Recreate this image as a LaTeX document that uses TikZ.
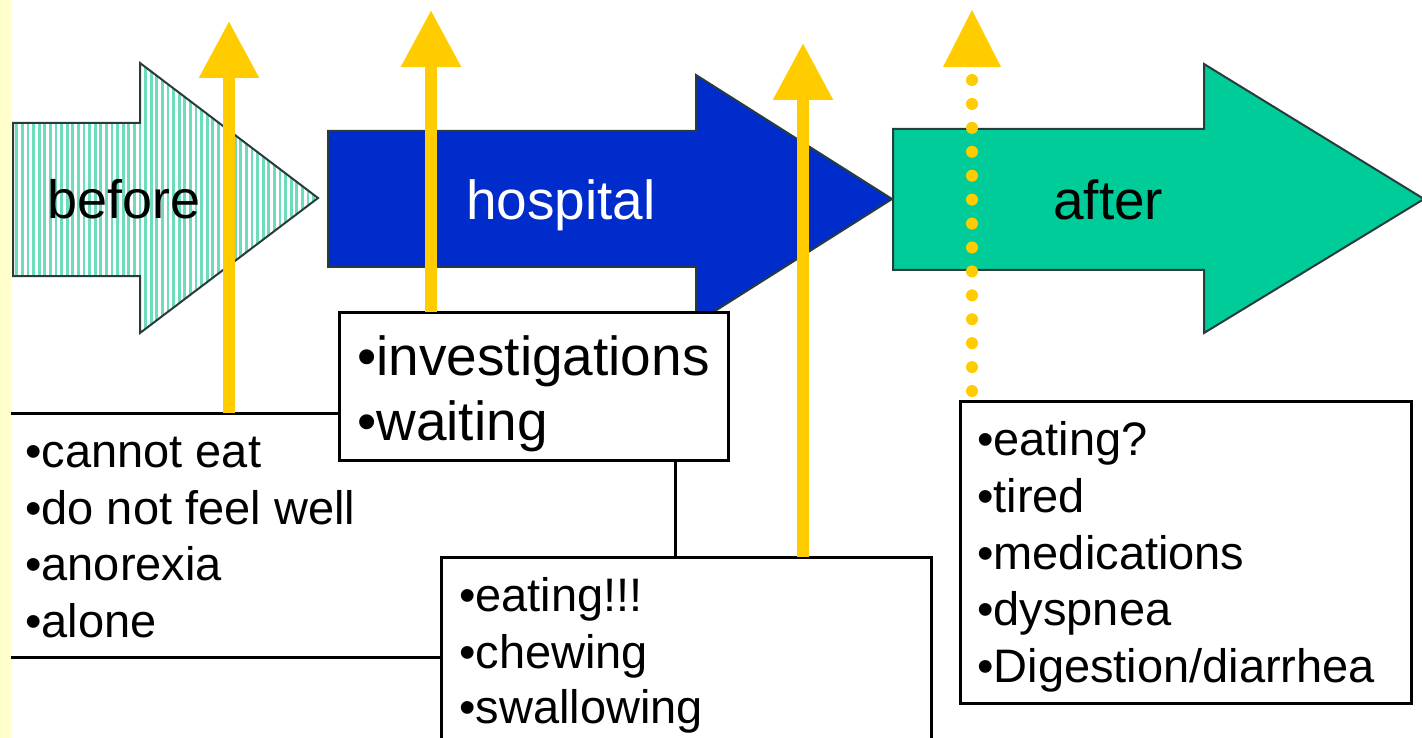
\documentclass[tikz,border=0pt]{standalone}
\usepackage{fontspec}
\setmainfont{Liberation Sans}
\usetikzlibrary{arrows.meta,patterns.meta}
\definecolor{yel}{HTML}{FFCC00}
\definecolor{hblue}{RGB}{0,44,204}
\definecolor{agreen}{HTML}{00CC99}
\definecolor{stripe}{RGB}{110,220,188}
\definecolor{band}{HTML}{FFFFCC}
\definecolor{edge}{RGB}{40,60,60}
\begin{document}
\begin{tikzpicture}[x=1pt,y=-1pt,
  shape outline/.style={draw=edge,line width=2pt,line join=miter},
  tbox/.style={draw=black,fill=white,line width=3pt,rectangle,inner sep=0pt,outer sep=0pt,anchor=north west},
  bigtxt/.style={inner sep=0pt,anchor=base west,font=\fontsize{55}{60}\selectfont},
  txt/.style={inner sep=0pt,anchor=base west,font=\fontsize{47}{56}\selectfont},
  itxt/.style={inner sep=0pt,anchor=base west,font=\fontsize{55}{64}\selectfont},
  yarrow/.style={draw=yel,line width=12pt,-{Triangle[width=57pt,length=57pt]}},
  ydots/.style={draw=yel,line width=12pt,line cap=round,dash pattern=on 0pt off 23.92pt}]
\clip (0,0) rectangle (1422,738);
\fill[white] (0,0) rectangle (1422,738);

% big process arrows
\path[shape outline,preaction={fill=white},pattern={Lines[angle=90,distance=5.6pt,line width=2.8pt]},pattern color=stripe]
  (13,123) -- (140,123) -- (140,63) -- (318,198) -- (140,333) -- (140,276) -- (13,276) -- cycle;
\path[fill=hblue,shape outline] (328,131) -- (696,131) -- (696,75) -- (892,199) -- (696,323) -- (696,267) -- (328,267) -- cycle;
\path[fill=agreen,shape outline] (893,129) -- (1204,129) -- (1204,64) -- (1424,199) -- (1204,333) -- (1204,270) -- (893,270) -- cycle;

\node[bigtxt,font=\fontsize{54}{60}\selectfont] (lbefore) at (47,219) {before};
\node[bigtxt,text=white] (lhosp) at (466,220) {hospital};
\node[bigtxt] (lafter) at (1053,220) {after};

% text boxes
\node[tbox,minimum width=685pt,minimum height=244pt] (bbox) at (-10,413) {};
\node[tbox,minimum width=389pt,minimum height=148pt] (ibox) at (339,312) {};
\node[tbox,minimum width=490pt,minimum height=203pt] (ebox) at (441,557) {};
\node[tbox,minimum width=451pt,minimum height=302pt] (abox) at (960,401) {};

\node[txt] (b1) at (25,467) {•cannot eat};
\node[txt] (b2) at (25,524) {•do not feel well};
\node[txt] (b3) at (25,580) {•anorexia};
\node[txt] (b4) at (25,637) {•alone};

\node[itxt] (i1) at (357,375) {•investigations};
\node[itxt] (i2) at (357,440) {•waiting};

\node[txt] (e1) at (459,611) {•eating!!!};
\node[txt] (e2) at (459,668) {•chewing};
\node[txt] (e3) at (459,723) {•swallowing};

\node[txt] (a1) at (977,455) {•eating?};
\node[txt] (a2) at (977,512) {•tired};
\node[txt] (a3) at (977,569) {•medications};
\node[txt] (a4) at (977,625) {•dyspnea};
\node[txt] (a5) at (977,682) {•Digestion/diarrhea};

% yellow arrows
\coordinate (t1) at (229,21);
\coordinate (t2) at (431,10);
\coordinate (t3) at (803,43);
\coordinate (t4) at (972,10);
\coordinate (d0) at (972,391);
\coordinate (d1) at (972,79.8);
\draw[yarrow] (bbox.north -| t1) -- (t1);
\draw[yarrow] (ibox.north -| t2) -- (t2);
\draw[yarrow] (ebox.north -| t3) -- (t3);
\draw[ydots] (d0) -- (d1);
\path[fill=yel] (943,67) -- (1001,67) -- (t4) -- cycle;

% left band
\path[fill=band] (0,0) rectangle (11,738);
\end{tikzpicture}
\end{document}
